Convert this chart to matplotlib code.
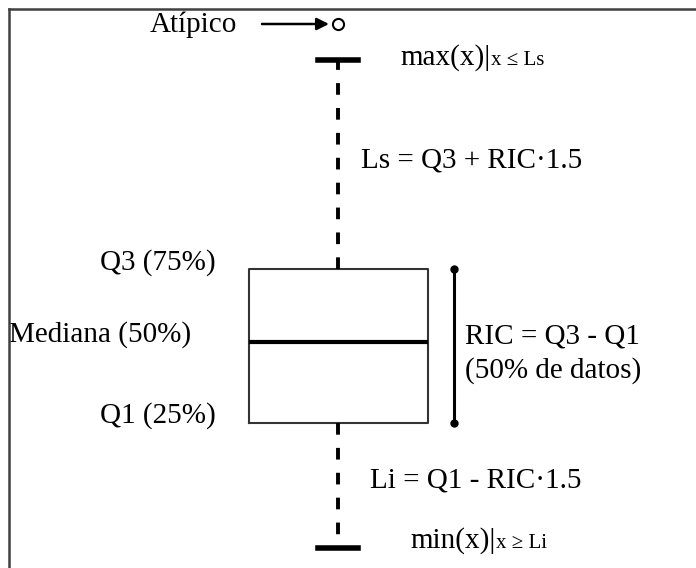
import matplotlib
matplotlib.use("Agg")
import matplotlib.pyplot as plt
from matplotlib.lines import Line2D

# Box-plot statistics (arbitrary units, higher = up)
q1 = 145
median = 226
q3 = 299
whisker_low = 20
whisker_high = 508
outliers = [544]
position = 338

labels_left = ["Q3 (75%)", "Mediana (50%)", "Q1 (25%)"]

plt.rcParams['font.family'] = ['Liberation Serif', 'DejaVu Serif']

fig = plt.figure(figsize=(6.96, 5.68), dpi=100)
ax = fig.add_axes([0, 0, 1, 1])
ax.set_xlim(0, 696)
ax.set_ylim(0, 568)
ax.axis('off')

stats = [dict(med=median, q1=q1, q3=q3, whislo=whisker_low, whishi=whisker_high,
              fliers=outliers)]
ax.bxp(stats, positions=[position], widths=[179], capwidths=[40],
       manage_ticks=False,
       boxprops=dict(color='#333333', linewidth=1.5),
       medianprops=dict(color='black', linewidth=3),
       whiskerprops=dict(color='black', linewidth=2.8, linestyle=(0, (3.0, 3.4))),
       capprops=dict(color='black', linewidth=4),
       flierprops=dict(marker='o', markersize=8, markerfacecolor='white',
                       markeredgecolor='black', markeredgewidth=1.5))

# RIC bracket
ax.plot([454, 454], [q1, q3], color='black', linewidth=2.2, marker='o', markersize=5)

def Y(p):
    return 568 - p

fs = 21
sfs = 15
# Atípico + arrow
ax.text(150, Y(32), "Atípico", fontsize=fs, va='baseline', ha='left')
ax.annotate("", xy=(329, outliers[0]), xytext=(262, outliers[0]),
            arrowprops=dict(arrowstyle='-|>', color='black', lw=1.8,
                            mutation_scale=18, shrinkA=0, shrinkB=0))

t_max = ax.text(400, Y(65), "max(x)|", fontsize=fs, va='baseline', ha='left')
ax.text(361, Y(168), "Ls = Q3 + RIC·1.5", fontsize=fs, va='baseline', ha='left')

ax.text(216, Y(270), labels_left[0], fontsize=fs, va='baseline', ha='right')
ax.text(9, Y(342), labels_left[1], fontsize=fs, va='baseline', ha='left')
ax.text(216, Y(423), labels_left[2], fontsize=fs, va='baseline', ha='right')

ax.text(465, Y(343), "RIC = Q3 - Q1", fontsize=fs, va='baseline', ha='left')
ax.text(465, Y(378), "(50% de datos)", fontsize=fs, va='baseline', ha='left')

ax.text(370, Y(488), "Li = Q1 - RIC·1.5", fontsize=fs, va='baseline', ha='left')

t_min = ax.text(410, Y(548), "min(x)|", fontsize=fs, va='baseline', ha='left')

# small conditional text right after the big text
fig.canvas.draw()
r = fig.canvas.get_renderer()
inv = ax.transData.inverted()
for big, small, yb in [(t_max, "x ≤ Ls", Y(65)), (t_min, "x ≥ Li", Y(548))]:
    bb = big.get_window_extent(renderer=r)
    x_end = inv.transform((bb.x1, bb.y0))[0]
    ax.text(x_end + 1, yb, small, fontsize=sfs, va='baseline', ha='left')

# frame lines (top and left)
fig.add_artist(Line2D([8.5/696, 1], [1 - 8.5/568, 1 - 8.5/568], transform=fig.transFigure,
                      color='#404040', linewidth=1.8))
fig.add_artist(Line2D([8.5/696, 8.5/696], [0, 1 - 8.5/568], transform=fig.transFigure,
                      color='#404040', linewidth=1.8))

fig.savefig("out.png", dpi=100)
